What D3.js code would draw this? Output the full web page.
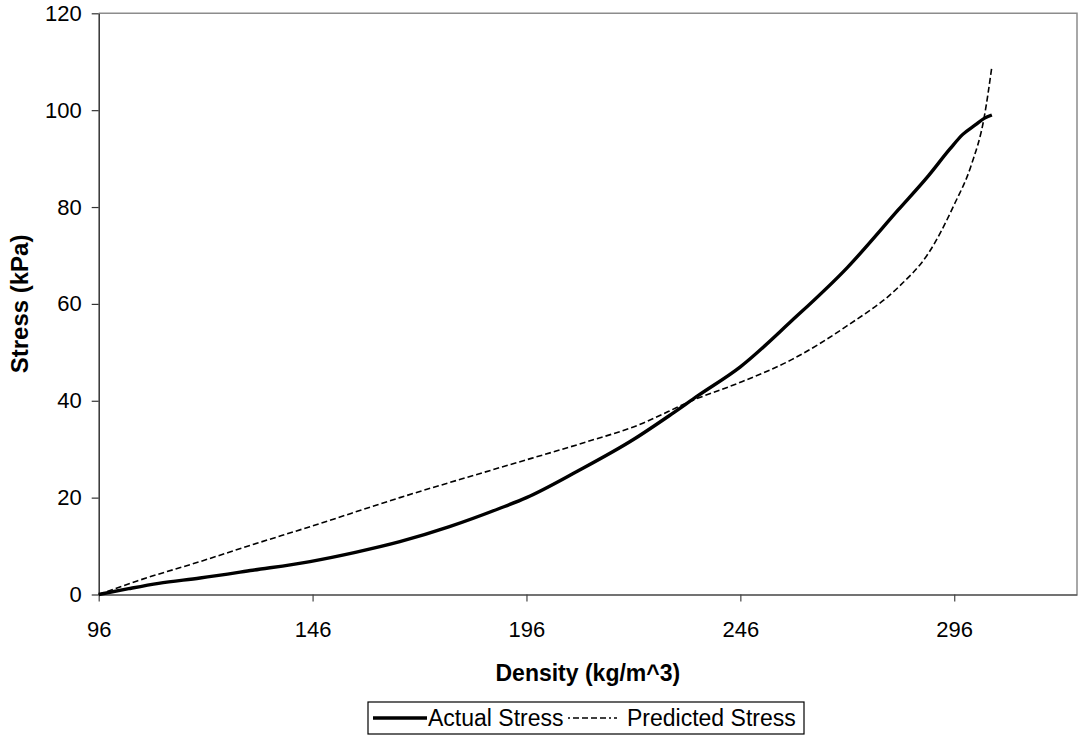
<!DOCTYPE html>
<html><head><meta charset="utf-8">
<script src="https://cdn.jsdelivr.net/npm/d3@7"></script>
<style>body{margin:0;background:#fff}svg{display:block}text{font-family:"Liberation Sans",Arial,sans-serif}</style>
</head><body>
<svg id="c" width="1079" height="736"></svg>
<script>
const xTicks = [96, 146, 196, 246, 296];
const yTicks = [0, 20, 40, 60, 80, 100, 120];
const actualX = [96, 103, 110, 119.7, 132, 145.4, 156, 166.4, 178, 189.8, 196, 208, 221, 230, 236, 246, 258, 271, 283, 290, 295, 298, 301, 303, 304.8];
const actualY = [0, 1.2, 2.3, 3.4, 5.0, 6.8, 8.7, 10.9, 14.0, 17.8, 20.0, 25.5, 32.0, 37.3, 41.0, 47.0, 56.5, 67.5, 79.5, 86.5, 92.0, 95.0, 97.0, 98.3, 99.0];
const predX = [96, 105, 119.7, 132, 145.4, 166.4, 189.8, 210, 221, 236, 246, 258, 271, 283, 290, 296, 300, 303, 304.8];
const predY = [0, 2.8, 6.8, 10.3, 14.0, 20.0, 26.2, 31.5, 34.6, 40.5, 43.8, 48.5, 55.5, 63.5, 70.5, 80.5, 88.7, 98.5, 109.0];
const seriesNames = ["Actual Stress", "Predicted Stress"];

const svg = d3.select("#c");
const L = 98.7, R = 1077, T = 13.3, B = 594.5;
const x = d3.scaleLinear().domain([96, 324.7]).range([L, R]);
const y = d3.scaleLinear().domain([0, 120]).range([B, T]);

// border top/right
svg.append("path").attr("d", `M${L},${T}H${R}V${B}`).attr("fill","none").attr("stroke","#8c8c8c").attr("stroke-width",1.5);

const fs = 22;
const ya = svg.append("g").attr("transform", `translate(${L},0)`)
  .call(d3.axisLeft(y).tickValues(yTicks).tickSize(7).tickPadding(10).tickSizeOuter(0));
ya.select(".domain").attr("stroke","#333").attr("stroke-width",1.5);
ya.selectAll(".tick line").attr("stroke","#333").attr("stroke-width",1.2);
ya.selectAll("text").attr("font-size",fs).attr("fill","#000").attr("font-family","Liberation Sans, Arial, sans-serif");

const xa = svg.append("g").attr("transform", `translate(0,${B})`)
  .call(d3.axisBottom(x).tickValues(xTicks).tickSize(7).tickPadding(20).tickSizeOuter(0));
xa.select(".domain").attr("stroke","#444").attr("stroke-width",1.5);
xa.selectAll(".tick line").attr("stroke","#444").attr("stroke-width",1.2);
xa.selectAll("text").attr("font-size",fs).attr("fill","#000").attr("font-family","Liberation Sans, Arial, sans-serif");

const line = d3.line().x(d => x(d[0])).y(d => y(d[1])).curve(d3.curveMonotoneX);
const aData = actualX.map((v,i)=>[v, actualY[i]]);
const pData = predX.map((v,i)=>[v, predY[i]]);
svg.append("path").datum(pData).attr("d", line).attr("fill","none").attr("stroke","#000").attr("stroke-width",1.6).attr("stroke-dasharray","6,3");
svg.append("path").datum(aData).attr("d", line).attr("fill","none").attr("stroke","#000").attr("stroke-width",3.4);

// titles
svg.append("text").attr("x", (L+R)/2).attr("y", 681).attr("text-anchor","middle").attr("font-weight","bold").attr("font-size",23).text("Density (kg/m^3)");
svg.append("text").attr("transform", `translate(27.5,${(T+B)/2}) rotate(-90)`).attr("text-anchor","middle").attr("font-weight","bold").attr("font-size",24).text("Stress (kPa)");

// legend
const lg = svg.append("g");
lg.append("rect").attr("x",368).attr("y",702).attr("width",436).attr("height",32).attr("fill","#fff").attr("stroke","#000").attr("stroke-width",1.2);
lg.append("line").attr("x1",373).attr("x2",427).attr("y1",718).attr("y2",718).attr("stroke","#000").attr("stroke-width",3.4);
lg.append("text").attr("x",428).attr("y",726).attr("font-size",23).text(seriesNames[0]);
lg.append("line").attr("x1",568).attr("x2",617).attr("y1",718).attr("y2",718).attr("stroke","#000").attr("stroke-width",1.6).attr("stroke-dasharray","2,3,6,3,6,3,6,3,6,3");
lg.append("text").attr("x",627).attr("y",726).attr("font-size",23).text(seriesNames[1]);
</script>
</body></html>
